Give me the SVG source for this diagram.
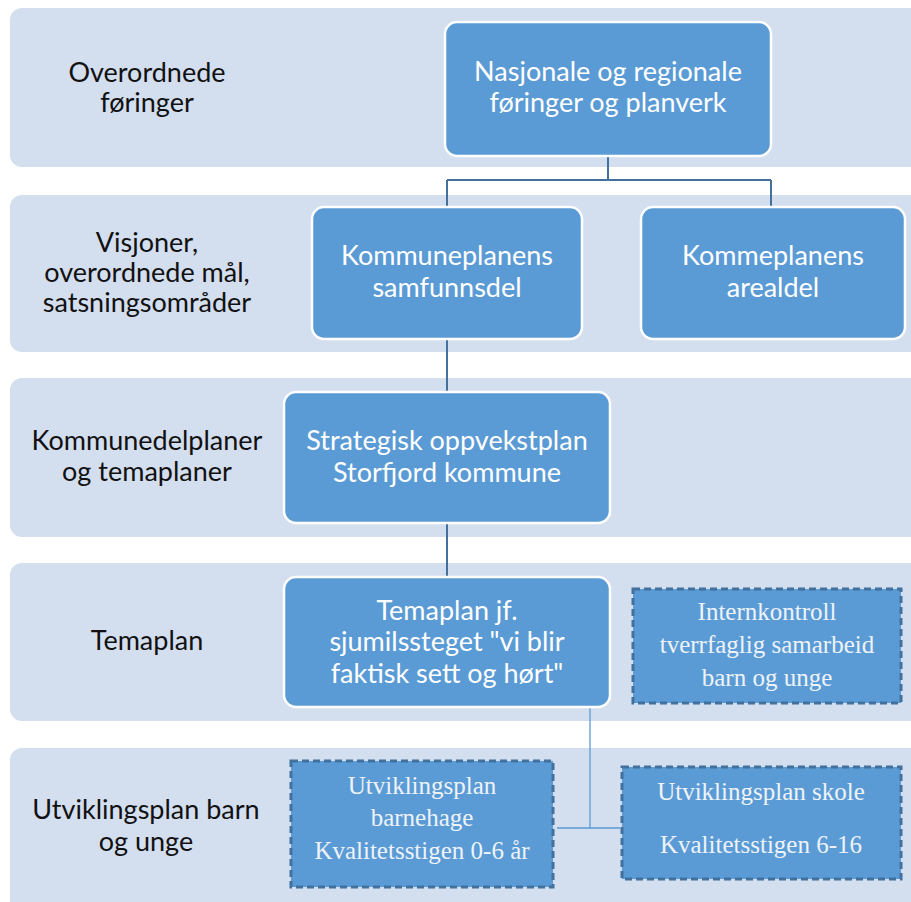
<svg xmlns="http://www.w3.org/2000/svg" width="911" height="902" viewBox="0 0 911 902">
<style>
.band{fill:#d3deef}
.node{fill:#5b9bd5;stroke:#ffffff;stroke-width:2.5}
.dash{fill:#5b9bd5;stroke:#41719c;stroke-width:3;stroke-dasharray:7 4}
.lbl{font-family:Lato,"Open Sans","Liberation Sans",sans-serif;font-size:27px;fill:#111;text-anchor:middle}
.nt{font-family:Lato,"Open Sans","Liberation Sans",sans-serif;font-size:27px;fill:#fff;text-anchor:middle}
.st{font-family:"Liberation Serif",serif;font-size:25px;fill:#eef3fa;text-anchor:middle}
.conn{stroke:#41719c;stroke-width:2;fill:none}
.thin{stroke:#5b9bd5;stroke-width:1.3;fill:none}
</style>
<rect width="911" height="902" fill="#ffffff"/>
<g id="bands">
<rect class="band" x="10" y="8" width="920" height="159" rx="12"/>
<rect class="band" x="10" y="195" width="920" height="157" rx="12"/>
<rect class="band" x="10" y="378" width="920" height="159" rx="12"/>
<rect class="band" x="10" y="563" width="920" height="158" rx="12"/>
<rect class="band" x="10" y="748" width="920" height="170" rx="12"/>
</g>
<g id="labels">
<text class="lbl" x="147" y="82">Overordnede</text>
<text class="lbl" x="147" y="112">føringer</text>
<text class="lbl" x="147" y="252">Visjoner,</text>
<text class="lbl" x="147" y="282">overordnede mål,</text>
<text class="lbl" x="147" y="312">satsningsområder</text>
<text class="lbl" x="147" y="450">Kommunedelplaner</text>
<text class="lbl" x="147" y="481">og temaplaner</text>
<text class="lbl" x="147" y="650">Temaplan</text>
<text class="lbl" x="146" y="819">Utviklingsplan barn</text>
<text class="lbl" x="146" y="851">og unge</text>
</g>
<g id="connectors">
<path class="conn" d="M608,156 V180 M447,180 H771 M447,180 V207 M771,180 V207"/>
<path class="conn" d="M447,339 V392"/>
<path class="conn" d="M447,523 V577"/>
<path class="thin" d="M590,707 V828 M557,828 H620"/>
</g>
<g id="n1">
<rect class="node" x="445" y="22" width="326" height="134" rx="12"/>
<text class="nt" x="608" y="81">Nasjonale og regionale</text>
<text class="nt" x="608" y="112">føringer og planverk</text>
</g>
<g id="n2">
<rect class="node" x="312" y="207" width="270" height="132" rx="12"/>
<text class="nt" x="447" y="265">Kommuneplanens</text>
<text class="nt" x="447" y="297">samfunnsdel</text>
</g>
<g id="n3">
<rect class="node" x="641" y="207" width="264" height="132" rx="12"/>
<text class="nt" x="773" y="265">Kommeplanens</text>
<text class="nt" x="773" y="297">arealdel</text>
</g>
<g id="n4">
<rect class="node" x="284" y="392" width="326" height="131" rx="12"/>
<text class="nt" x="447" y="450">Strategisk oppvekstplan</text>
<text class="nt" x="447" y="482">Storfjord kommune</text>
</g>
<g id="n5">
<rect class="node" x="284" y="577" width="326" height="130" rx="12"/>
<text class="nt" x="447" y="620">Temaplan jf.</text>
<text class="nt" x="447" y="651">sjumilssteget "vi blir</text>
<text class="nt" x="447" y="683">faktisk sett og hørt"</text>
</g>
<g id="n6">
<rect class="dash" x="633" y="589" width="268" height="114"/>
<text class="st" x="767" y="620">Internkontroll</text>
<text class="st" x="767" y="653">tverrfaglig samarbeid</text>
<text class="st" x="767" y="686">barn og unge</text>
</g>
<g id="n7">
<rect class="dash" x="291" y="761" width="262" height="126"/>
<text class="st" x="422" y="794">Utviklingsplan</text>
<text class="st" x="422" y="826">barnehage</text>
<text class="st" x="422" y="859">Kvalitetsstigen 0-6 år</text>
</g>
<g id="n8">
<rect class="dash" x="622" y="767" width="279" height="112"/>
<text class="st" x="761" y="800">Utviklingsplan skole</text>
<text class="st" x="761" y="853">Kvalitetsstigen 6-16</text>
</g>
</svg>
